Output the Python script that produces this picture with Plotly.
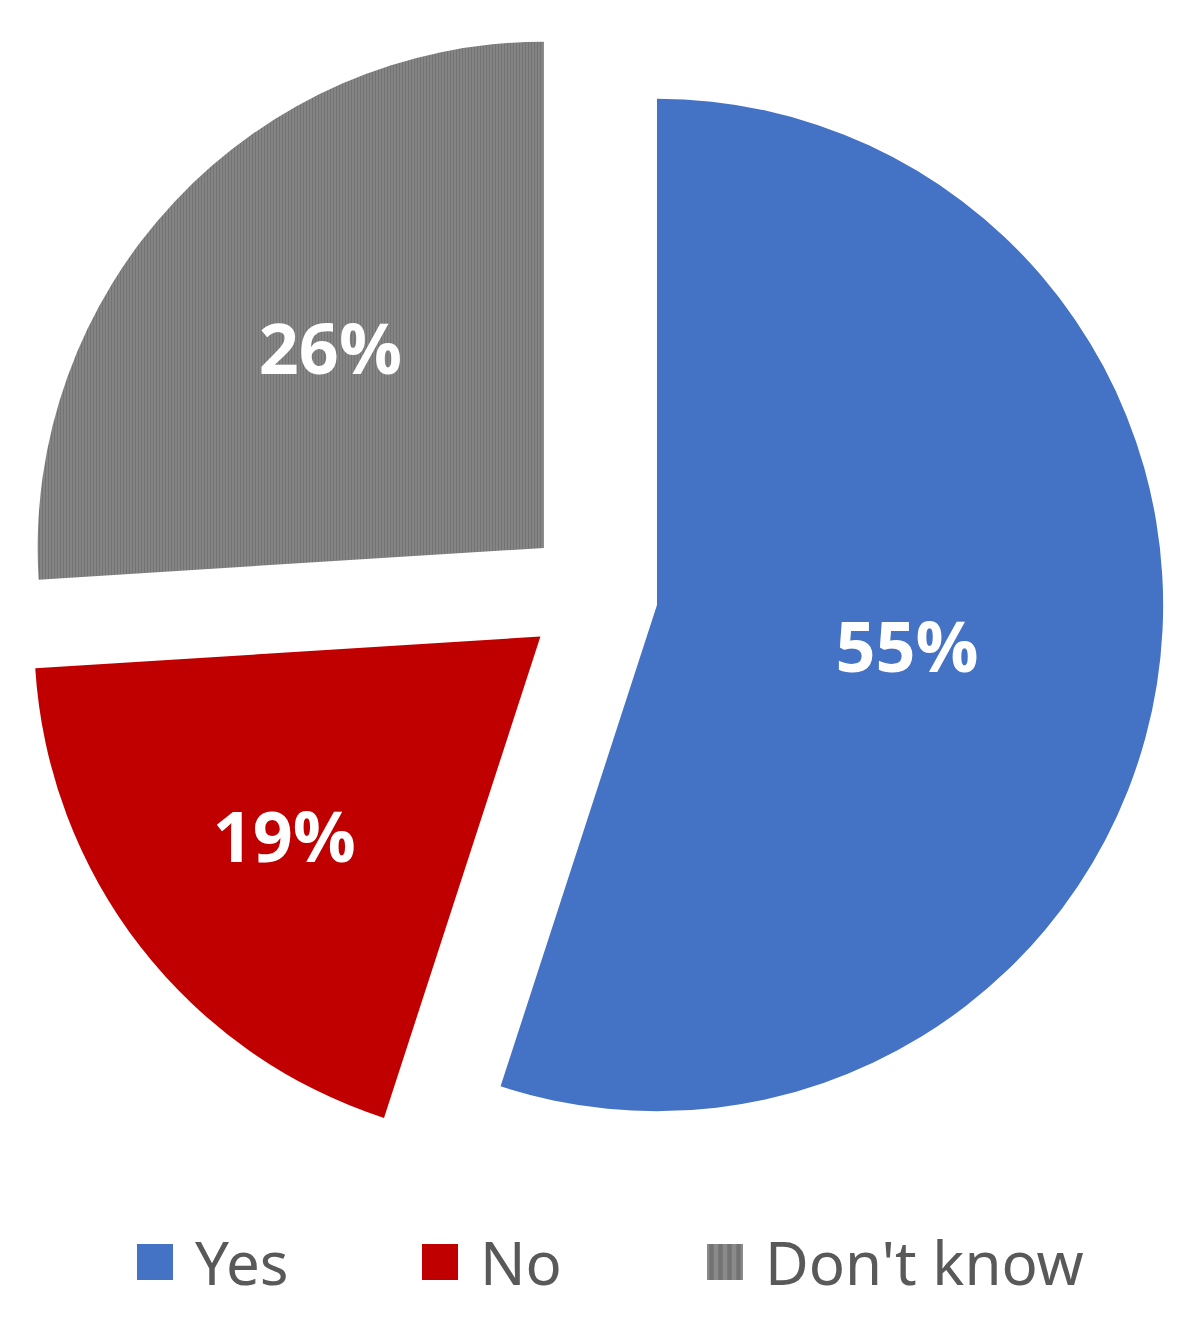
import plotly.graph_objects as go

W, H = 1199, 1325

answers = ["Yes", "No", "Don't know"]
shares = [55, 19, 26]
colors = ["#4472C4", "#C00000", "#7F7F7F"]
pulls = [0.126, 0.134, 0.136]

fig = go.Figure(
    go.Pie(
        labels=answers,
        values=shares,
        sort=False,
        direction="clockwise",
        rotation=0,
        pull=pulls,
        marker=dict(
            colors=colors,
            line=dict(width=0),
            pattern=dict(
                shape=["", "", "|"],
                size=3,
                solidity=0.5,
                fgcolor="#737373",
                bgcolor=["#4472C4", "#C00000", "#8A8A8A"],
                fillmode="replace",
            ),
        ),
        texttemplate="%{percent:.0%}",
        textposition="inside",
        insidetextorientation="horizontal",
        textfont=dict(family="Open Sans", size=70, color="white", weight="bold"),
        domain=dict(x=[11 / W, 1161 / W], y=[163 / H, 1313 / H]),
        hoverinfo="label+percent",
    )
)

fig.update_layout(
    width=W,
    height=H,
    margin=dict(l=0, r=0, t=0, b=0),
    paper_bgcolor="white",
    plot_bgcolor="white",
    showlegend=True,
    legend=dict(
        orientation="h",
        x=0.5 - 45 / W,
        xanchor="center",
        y=1 - 1254 / H,
        yanchor="middle",
        font=dict(family="Noto Sans", size=60, color="#595959"),
        itemwidth=50,
        entrywidth=220,
        traceorder="normal",
    ),
)

# bigger legend swatches like the original, and no clipping of the last entry
post = """
document.querySelectorAll('.legendpoints path').forEach(function (p) {
    p.setAttribute('transform', 'translate(20,0) scale(3)');
});
document.querySelectorAll('.legend .scrollbox').forEach(function (g) {
    g.removeAttribute('clip-path');
});
"""

fig.write_html("out.html", post_script=post)
